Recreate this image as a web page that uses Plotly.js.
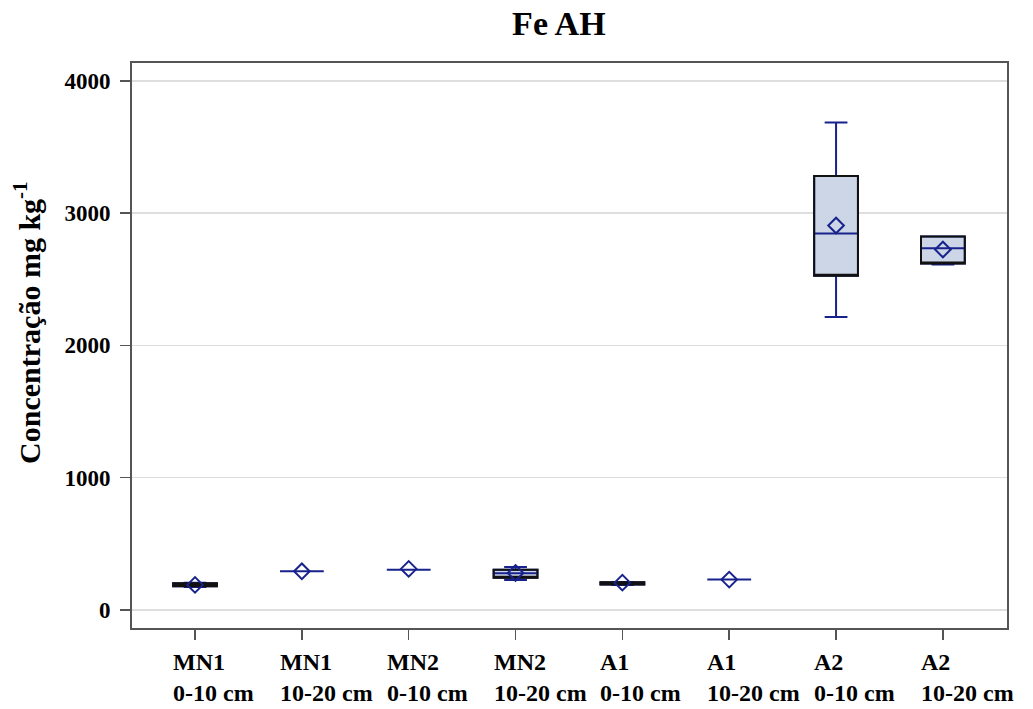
<!DOCTYPE html>
<html>
<head>
<meta charset="utf-8">
<script src="https://cdn.plot.ly/plotly-3.0.1.min.js"></script>
<style>html,body{margin:0;padding:0;background:#fff;}#chart{width:1033px;height:709px;}</style>
</head>
<body>
<div id="chart"></div>
<script>
// ---- data ----
const categories = ['MN1 0-10 cm','MN1 10-20 cm','MN2 0-10 cm','MN2 10-20 cm','A1 0-10 cm','A1 10-20 cm','A2 0-10 cm','A2 10-20 cm'];
const labelTop = ['MN1','MN1','MN2','MN2','A1','A1','A2','A2'];
const labelBottom = ['0-10 cm','10-20 cm','0-10 cm','10-20 cm','0-10 cm','10-20 cm','0-10 cm','10-20 cm'];
const lowerFence = [172, 291, 303, 226, 188, 228, 2214, 2611];
const q1Values   = [178, 291, 303, 242, 191, 228, 2527, 2619];
const medianVals = [190, 291, 303, 276, 200, 228, 2846, 2735];
const q3Values   = [200, 291, 303, 302, 208, 228, 3281, 2823];
const upperFence = [205, 291, 303, 324, 210, 228, 3686, 2823];
const meanValues = [188, 291, 309, 278, 205, 228, 2907, 2725];
const yTicks = [0, 1000, 2000, 3000, 4000];

const NAVY = '#17228c';
const FONT = 'Liberation Serif, Times New Roman, serif';

const traces = [];
categories.forEach((c, i) => {
  traces.push({
    type: 'box', x: [c],
    q1: [q1Values[i]], median: [medianVals[i]], q3: [q3Values[i]],
    lowerfence: [lowerFence[i]], upperfence: [upperFence[i]],
    width: 0.41, whiskerwidth: 0.52,
    fillcolor: '#cdd6e6', line: {color: NAVY, width: 2},
    boxpoints: false, showlegend: false, hoverinfo: 'skip'
  });
});
// black box outline on top (only where the box has a height)
categories.forEach((c, i) => {
  if (q3Values[i] === q1Values[i]) return;
  traces.push({
    type: 'box', x: [c],
    q1: [q1Values[i]], median: [q1Values[i]], q3: [q3Values[i]],
    lowerfence: [q1Values[i]], upperfence: [q3Values[i]],
    width: 0.41, whiskerwidth: 0,
    fillcolor: 'rgba(0,0,0,0)', line: {color: '#111', width: 2},
    boxpoints: false, showlegend: false, hoverinfo: 'skip'
  });
});
traces.push({
  type: 'scatter', mode: 'markers', x: categories, y: meanValues,
  marker: {symbol: 'diamond-open', size: 12, color: NAVY, line: {width: 2, color: NAVY}},
  showlegend: false, hoverinfo: 'skip'
});

const annotations = categories.map((c, i) => ({
  x: c, xref: 'x', y: 0, yref: 'paper',
  xanchor: 'left', yanchor: 'top', xshift: -24, yshift: -19,
  align: 'left', showarrow: false,
  text: labelTop[i] + '<br>' + labelBottom[i],
  font: {family: FONT, size: 24, weight: 'bold', color: '#000'}
}));
annotations.push({
  x: 0, xref: 'paper', y: 0.54, yref: 'paper',
  xanchor: 'center', yanchor: 'middle', xshift: -105,
  textangle: -90, showarrow: false,
  text: 'Concentração mg kg<sup>-1</sup>',
  font: {family: FONT, size: 30, weight: 'bold', color: '#000'}
});

const layout = {
  width: 1033, height: 709,
  margin: {l: 132, r: 26, t: 63, b: 81},
  paper_bgcolor: '#fff', plot_bgcolor: '#fff',
  title: {text: 'Fe AH', x: 0.541, xanchor: 'center', xref: 'container', y: 0.967, yanchor: 'middle', yref: 'container',
          font: {family: FONT, size: 34, weight: 'bold', color: '#000'}},
  boxmode: 'overlay',
  xaxis: {
    type: 'category', categoryorder: 'array', categoryarray: categories,
    range: [-0.59, 7.6], showticklabels: false,
    ticks: 'outside', ticklen: 10, tickcolor: '#555', tickwidth: 1.5,
    showline: true, linecolor: '#555', linewidth: 2, mirror: true,
    showgrid: false, zeroline: false
  },
  yaxis: {
    range: [-138, 4136], tickvals: yTicks, ticktext: yTicks.map(String),
    ticks: 'outside', ticklen: 10, tickcolor: '#555', tickwidth: 1.5, ticklabelstandoff: 5,
    tickfont: {family: FONT, size: 23, weight: 'bold', color: '#000'},
    showline: true, linecolor: '#555', linewidth: 2, mirror: true,
    showgrid: true, gridcolor: '#dedede', gridwidth: 1.5, zeroline: false
  },
  annotations: annotations
};

Plotly.newPlot('chart', traces, layout, {staticPlot: true, displayModeBar: false});
</script>
</body>
</html>
